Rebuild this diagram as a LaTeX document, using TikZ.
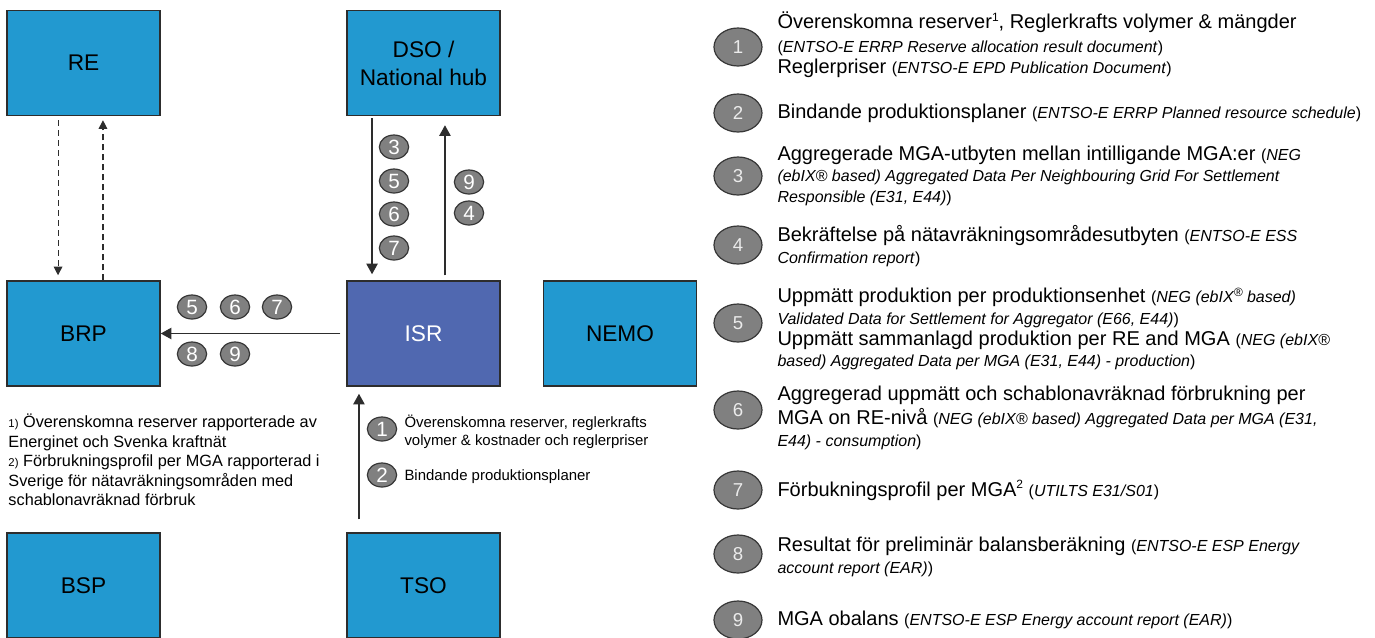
\documentclass[tikz,border=0pt]{standalone}
\usepackage{fontspec}
\setmainfont{Liberation Sans}
\usetikzlibrary{shapes.geometric,arrows.meta}

\definecolor{actorblue}{RGB}{34,153,208}
\definecolor{isrblue}{RGB}{80,104,176}
\definecolor{numgray}{RGB}{128,128,128}
\definecolor{numedge}{RGB}{55,55,55}
\definecolor{lineblack}{RGB}{45,45,45}

\newcommand{\ds}{\fontsize{12}{16}\selectfont}
\newcommand{\upnum}[1]{\raisebox{0.75ex}{\fontsize{9}{9}\selectfont #1}}

\tikzset{every picture/.style={line width=0.75pt}}

\begin{document}
\begin{tikzpicture}[x=0.75pt,y=0.75pt,yscale=-1,xscale=1,
	actor/.style={draw=lineblack, line width=1.1pt, fill=actorblue, minimum width=114.75pt, minimum height=78.75pt, inner sep=0pt, align=center, font=\fontsize{17}{21}\selectfont},
	smallnum/.style={ellipse, draw=numedge, line width=0.9pt, fill=numgray, text=white, minimum width=22pt, minimum height=18pt, inner sep=0pt, font=\fontsize{15.5}{15.5}\selectfont},
	bignum/.style={ellipse, draw=numedge, line width=0.9pt, fill=numgray, text=white!92!black, minimum width=36pt, minimum height=28.5pt, inner sep=0pt, font=\fontsize{14}{14}\selectfont},
	legtext/.style={anchor=west, inner sep=0pt, align=left, font=\fontsize{15}{16}\selectfont},
	flow/.style={draw=lineblack, line width=1.1pt, -{Triangle[length=8pt,width=8.5pt]}},
	dashflow/.style={draw=lineblack, line width=0.8pt, dash pattern=on 4.5pt off 3pt, -{Triangle[length=6.5pt,width=6.5pt]}}]
	\path [use as bounding box, fill=white] (0,0) rectangle (1375,637);

	%Shape: Rectangle [RE]
	\node [actor] (RE) at (83.5,63) {RE};
	%Shape: Rectangle [DSO]
	\node [actor] (DSO) at (423.5,63) {DSO /\\National hub};
	%Shape: Rectangle [BRP]
	\node [actor] (BRP) at (83.5,333.5) {BRP};
	%Shape: Rectangle [ISR]
	\node [actor, fill=isrblue, text=white] (ISR) at (423.5,333.5) {ISR};
	%Shape: Rectangle [NEMO]
	\node [actor] (NEMO) at (620,333.5) {NEMO};
	%Shape: Rectangle [BSP]
	\node [actor] (BSP) at (83.5,585.5) {BSP};
	%Shape: Rectangle [TSO]
	\node [actor] (TSO) at (423.5,585.5) {TSO};

	%Dashed Lines
	\draw [dashflow, shorten <=3pt, shorten >=3.75pt] ([xshift=-19.1pt]RE.south) -- ([xshift=-19.1pt]BRP.north);
	\draw [dashflow, shorten >=3pt] ([xshift=14.6pt]BRP.north) -- ([xshift=14.6pt]RE.south);
	%Straight Lines
	\draw [flow, shorten <=1.5pt, shorten >=4.5pt] ([xshift=-38.6pt]DSO.south) -- ([xshift=-38.6pt]ISR.north);
	\draw [flow, shorten <=3.75pt, shorten >=6.75pt] ([xshift=16.1pt]ISR.north) -- ([xshift=16.1pt]DSO.south);
	\draw [flow, shorten <=4.5pt] (ISR.west) -- (BRP.east);
	\draw [flow, shorten <=9.75pt, shorten >=5.25pt] ([xshift=-48.4pt]TSO.north) -- ([xshift=-48.4pt]ISR.south);

	%Shape: Circle [numbers on DSO - ISR]
	\node [smallnum] (d3) at (394,147) {3};
	\node [smallnum] (d5) at (394,181) {5};
	\node [smallnum] (d6) at (394,214) {6};
	\node [smallnum] (d7) at (394,248) {7};
	\node [smallnum] (u9) at (469,182) {9};
	\node [smallnum] (u4) at (469,213) {4};
	%Shape: Circle [numbers on ISR - BRP]
	\node [smallnum] (b5) at (192,307) {5};
	\node [smallnum] (b6) at (235,307) {6};
	\node [smallnum] (b7) at (277,307) {7};
	\node [smallnum] (b8) at (192,354) {8};
	\node [smallnum] (b9) at (235,354) {9};
	%Shape: Circle [numbers on TSO - ISR]
	\node [smallnum] (t1) at (382,429) {1};
	\node [smallnum] (t2) at (382,475) {2};

	% Text Node
	\node [anchor=west, inner sep=0pt, align=left, font=\fontsize{11.2}{13.5}\selectfont] (tsotxt1) at (404,432) {Överenskomna reserver, reglerkrafts\\volymer \& kostnader och reglerpriser};
	% Text Node
	\node [anchor=west, inner sep=0pt, font=\fontsize{11.2}{13.5}\selectfont] (tsotxt2) at (404,477) {Bindande produktionsplaner};
	% Text Node
	\node [anchor=west, inner sep=0pt, align=left, font=\fontsize{12.2}{14.6}\selectfont] (notes) at (8,460) {{\fontsize{8.5}{10}\selectfont 1)}\ Överenskomna reserver rapporterade av\\Energinet och Svenka kraftnät\\{\fontsize{8.5}{10}\selectfont 2)}\ Förbrukningsprofil per MGA rapporterad i\\Sverige för nätavräkningsområden med\\schablonavräknad förbruk};

	%Shape: Circle [legend]
	\node [bignum] (k1) at (738,47) {1};
	\node [bignum] (k2) at (738,113) {2};
	\node [bignum] (k3) at (738,176) {3};
	\node [bignum] (k4) at (738,245) {4};
	\node [bignum] (k5) at (738,323) {5};
	\node [bignum] (k6) at (738,410) {6};
	\node [bignum] (k7) at (738,490) {7};
	\node [bignum] (k8) at (738,554) {8};
	\node [bignum] (k9) at (738,620) {9};

	% Text Node
	\node [legtext] (l1) at (777,45) {Överenskomna reserver\upnum{1}, Reglerkrafts volymer \& mängder\\[1.5pt]{\ds(\textit{ENTSO-E ERRP Reserve allocation result document})}\\Reglerpriser {\ds(\textit{ENTSO-E EPD Publication Document})}};
	% Text Node
	\node [legtext] (l2) at (777,113) {Bindande produktionsplaner {\ds(\textit{ENTSO-E ERRP Planned resource schedule})}};
	% Text Node
	\node [legtext] (l3) at (777,176) {Aggregerade MGA-utbyten mellan intilligande MGA:er {\ds(\textit{NEG}}\\{\ds\textit{(ebIX® based) Aggregated Data Per Neighbouring Grid For Settlement}}\\{\ds\textit{Responsible (E31, E44)})}};
	% Text Node
	\node [legtext] (l4) at (777,246) {Bekräftelse på nätavräkningsområdesutbyten {\ds(\textit{ENTSO-E ESS}}\\{\ds\textit{Confirmation report})}};
	% Text Node
	\node [legtext] (l5) at (777,329) {Uppmätt produktion per produktionsenhet {\ds(\textit{NEG (ebIX\upnum{®} based)}}\\{\ds\textit{Validated Data for Settlement for Aggregator (E66, E44)})}\\Uppmätt sammanlagd produktion per RE and MGA {\ds(\textit{NEG (ebIX®}}\\{\ds\textit{based) Aggregated Data per MGA (E31, E44) - production})}};
	% Text Node
	\node [legtext] (l6) at (777,418) {Aggregerad uppmätt och schablonavräknad förbrukning per\\[2pt]MGA on RE-nivå {\ds(\textit{NEG (ebIX® based) Aggregated Data per MGA (E31,}}\\{\ds\textit{E44) - consumption})}};
	% Text Node
	\node [legtext] (l7) at (777,490) {Förbukningsprofil per MGA\upnum{2} {\ds(\textit{UTILTS E31/S01})}};
	% Text Node
	\node [legtext] (l8) at (777,557) {Resultat för preliminär balansberäkning {\ds(\textit{ENTSO-E ESP Energy}}\\{\ds\textit{account report (EAR)})}};
	% Text Node
	\node [legtext] (l9) at (777,620) {MGA obalans {\ds(\textit{ENTSO-E ESP Energy account report (EAR)})}};

\end{tikzpicture}
\end{document}
